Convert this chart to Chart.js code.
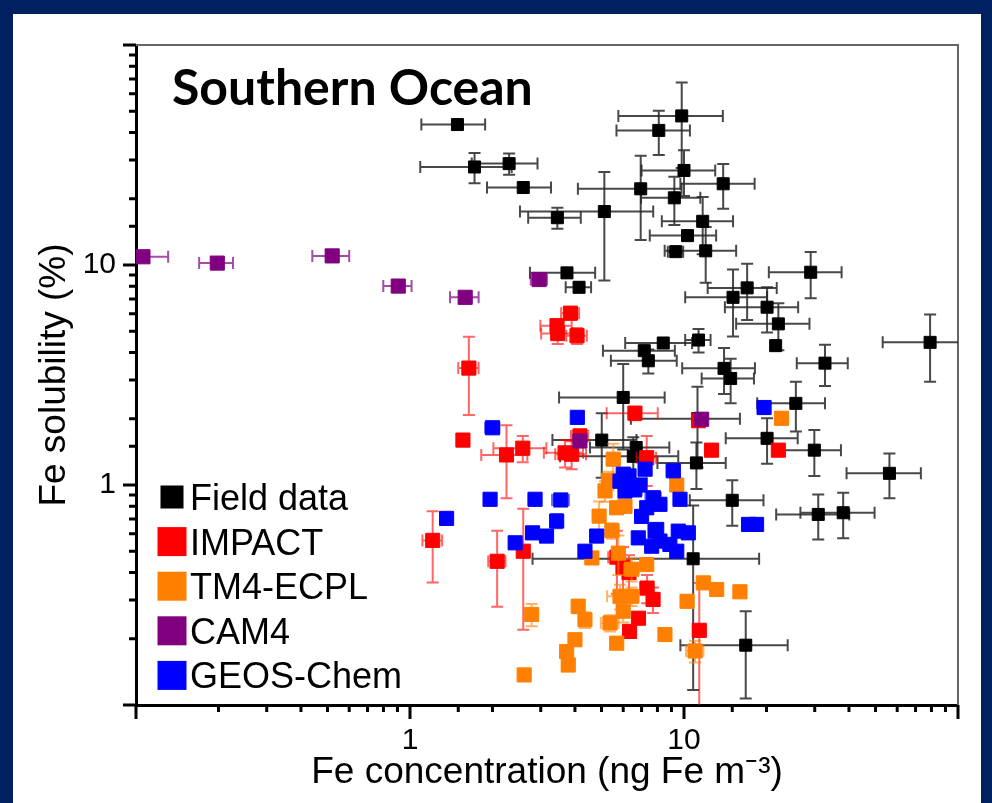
<!DOCTYPE html>
<html>
<head>
<meta charset="utf-8">
<script src="https://cdn.jsdelivr.net/npm/chart.js@4.4.1/dist/chart.umd.min.js"></script>
<style>
  body { margin: 0; background: #002060; width: 992px; height: 803px; overflow: hidden; }
  #wrap { position: absolute; left: 13px; top: 14px; width: 968px; height: 789px; background: #fff; }
  canvas { display: block; }
</style>
</head>
<body>
<div id="wrap"><canvas id="myChart" width="968" height="789"></canvas></div>
<script>
// データ
const seriesNames = ["Field data", "IMPACT", "TM4-ECPL", "CAM4", "GEOS-Chem"];
const seriesColors = ["#000000", "#ff0000", "#ff8000", "#800080", "#0000ff"];
const xTickLabels = [1, 10];
const yTickLabels = [1, 10];

const fieldX = [1.49, 1.72, 2.30, 2.59, 3.45, 5.12, 6.95, 9.81, 8.09, 10.0, 13.9, 9.22, 11.7, 10.3, 12.0, 9.33, 29.0, 17.0, 15.1, 20.1, 22.1, 21.6, 32.7, 79.1, 8.4, 11.3, 7.16, 7.41, 6.0, 5.01, 6.69, 6.53, 11.1, 15.0, 10.8, 16.8, 30.9, 38.1, 56.2, 29.9, 20.1, 25.6, 14.0, 14.8, 3.74, 4.14, 11.2];
const fieldY = [43.5, 27.9, 28.9, 22.5, 16.4, 17.5, 22.2, 47.6, 40.9, 26.9, 23.4, 20.2, 15.8, 13.6, 11.6, 11.5, 9.27, 7.87, 7.13, 6.43, 5.40, 4.30, 3.58, 4.45, 4.42, 4.56, 4.08, 3.67, 2.50, 1.60, 1.48, 1.35, 1.26, 0.852, 0.462, 0.187, 0.735, 0.748, 1.13, 1.44, 1.63, 2.35, 3.39, 3.05, 9.21, 7.92, 2.0];
const fieldXErr = [0.39, 0.63, 0.62, 0.68, 0.75, 2.6, 2.85, 4.05, 2.42, 3.0, 4.2, 2.25, 3.4, 2.8, 3.5, 0.6, 8.6, 4.8, 5.0, 6.0, 6.6, 0.5, 6.9, 26, 2.3, 1.2, 2.1, 2.0, 2.5, 1.7, 2.15, 3.0, 3.1, 4.5, 8.0, 7.1, 9.2, 11.5, 17, 7.5, 5.9, 7.1, 4.15, 3.2, 1.0, 0.44, 4.8];
const fieldYErr = [0, 4.4, 3.2, 0, 1.8, 9.0, 9.2, 20, 9.3, 6.3, 5.4, 5.0, 4.6, 0, 3.3, 0, 2.2, 2.25, 2.4, 1.5, 1.3, 0, 0.76, 1.5, 0, 0.56, 0, 0.46, 1.05, 0.52, 0, 0.3, 0.3, 0.2, 0.345, 0.08, 0.17, 0.175, 0.26, 0.34, 0.38, 0.6, 0.8, 0.7, 0.4, 0.4, 0.8];

const impactX = [3.85, 3.44, 3.46, 4.07, 1.64, 1.56, 2.25, 2.58, 3.68, 3.89, 4.17, 6.62, 7.31, 12.6, 22.1, 11.3, 1.21, 2.08, 2.59, 5.69, 5.99, 6.30, 7.33, 7.71, 6.82, 6.33, 11.37];
const impactY = [6.04, 5.30, 4.88, 4.77, 3.40, 1.60, 1.37, 1.47, 1.40, 1.38, 1.67, 2.12, 1.33, 1.44, 1.44, 1.96, 0.56, 0.45, 0.50, 0.47, 0.423, 0.40, 0.34, 0.302, 0.248, 0.216, 0.2185];
const impactXErr = [0.29, 0.45, 0.45, 0.35, 0.14, 0, 0.43, 0.565, 0.6, 0.5, 0.3, 1.4, 0.6, 0, 0, 0, 0.1, 0.15, 0.1, 0.4, 0.3, 0.3, 0.4, 0.3, 0, 0, 0];
const impactYErr = [0.4, 0.3, 0.5, 0.4, 1.32, 0, 0.5, 0.2, 0.2, 0.2, 0.12, 0.15, 0.34, 0, 0, 0, 0.2, 0.17, 0.28, 0.15, 0.1, 0.08, 0.05, 0.04, 0, 0, 0.14];

const tm4X = [5.52, 22.7, 9.41, 5.68, 4.90, 6.09, 4.61, 5.76, 7.31, 6.44, 5.84, 6.44, 5.37, 6.0, 5.68, 4.11, 4.35, 4.0, 3.73, 3.78, 2.78, 2.61, 8.52, 11.76, 13.16, 16.0, 10.26, 10.97, 5.15, 5.46, 5.30];
const tm4Y = [1.31, 2.01, 1.0, 0.788, 0.722, 0.80, 0.466, 0.49, 0.435, 0.414, 0.312, 0.312, 0.236, 0.267, 0.191, 0.281, 0.244, 0.198, 0.175, 0.152, 0.258, 0.137, 0.209, 0.359, 0.335, 0.327, 0.296, 0.176, 0.94, 0.62, 1.05];
const tm4XErr = [0.3, 0, 0, 0.3, 0, 0.3, 0, 0.3, 0, 0.4, 0.6, 0.4, 0.4, 0.3, 0, 0.2, 0.2, 0, 0, 0, 0.1, 0, 0, 0, 0, 0, 0, 0.8, 0.2, 0.3, 0.2];
const tm4YErr = [0.23, 0, 0, 0.05, 0.12, 0.05, 0, 0.1, 0, 0.05, 0.04, 0.03, 0.02, 0.03, 0, 0.02, 0.02, 0, 0, 0, 0.03, 0, 0, 0, 0, 0, 0, 0.02, 0.1, 0.05, 0.1];

const cam4X = [0.106, 0.198, 0.52, 0.906, 1.59, 2.96, 4.17, 11.6];
const cam4Y = [10.9, 10.2, 11.0, 8.02, 7.13, 8.59, 1.586, 1.99];
const cam4XErr = [0.025, 0.028, 0.08, 0.107, 0.19, 0.2, 0.2, 0];
const cam4YErr = [0, 0, 0, 0, 0, 0.3, 0.1, 0];

const geosX = [4.08, 2.00, 1.96, 2.86, 3.55, 1.36, 3.43, 2.80, 3.15, 2.42, 4.80, 4.35, 6.81, 6.0, 7.21, 9.14, 9.67, 6.91, 7.73, 7.31, 8.17, 5.84, 6.09, 7.95, 9.53, 10.37, 8.17, 8.88, 7.62, 19.6, 17.2, 18.4, 7.84, 9.41, 6.6, 7.0, 6.3];
const geosY = [2.03, 1.82, 0.861, 0.861, 0.855, 0.705, 0.686, 0.606, 0.586, 0.546, 0.586, 0.50, 0.575, 1.12, 1.18, 1.16, 0.861, 1.0, 0.875, 0.788, 0.817, 1.04, 0.939, 0.628, 0.617, 0.606, 0.556, 0.537, 0.527, 2.25, 0.662, 0.662, 0.617, 0.50, 0.95, 0.72, 1.1];
const geosXErr = [0, 0.12, 0.08, 0.15, 0.25, 0, 0.15, 0, 0.1, 0, 0.15, 0, 0, 0, 0, 0.5, 0.4, 0, 0.5, 0, 0.4, 0, 0, 0, 0, 0, 0, 0, 0, 0, 0, 0, 0, 0, 0.4, 0, 0.3];
const geosYErr = [0, 0.05, 0.04, 0, 0, 0, 0.05, 0, 0, 0, 0.03, 0, 0, 0, 0, 0, 0, 0, 0, 0, 0, 0, 0, 0, 0, 0.03, 0, 0, 0, 0, 0.03, 0, 0, 0, 0.05, 0, 0.05];

const FONT = "'Liberation Sans', Arial, sans-serif";

// 点データに変換
function toPoints(xs, ys) {
  return xs.map((x, i) => ({ x: x, y: ys[i] }));
}

function isPow10(v) {
  const l = Math.log10(v);
  return Math.abs(l - Math.round(l)) < 1e-6;
}

function hasLabel(list, v) {
  return list.some((t) => Math.abs(t - v) < 1e-9);
}

// データセットの作成
function makeDataset(idx, xs, ys, ex, ey, barColor, radius, order) {
  return {
    label: seriesNames[idx],
    data: toPoints(xs, ys),
    errX: ex,
    errY: ey,
    barColor: barColor,
    barWidth: 2,
    backgroundColor: seriesColors[idx],
    borderColor: seriesColors[idx],
    borderWidth: 1,
    pointStyle: "rect",
    pointRadius: radius,
    pointHoverRadius: radius,
    order: order,
  };
}

// エラーバー
const errorBars = {
  id: "errorBars",
  beforeDatasetDraw(chart, args) {
    const ds = chart.data.datasets[args.index];
    if (!ds.errX) return;
    const xs = chart.scales.x;
    const ys = chart.scales.y;
    const area = chart.chartArea;
    const c = chart.ctx;
    const cap = 6;
    c.save();
    c.beginPath();
    c.rect(area.left, area.top, area.right - area.left, area.bottom - area.top);
    c.clip();
    c.strokeStyle = ds.barColor;
    c.lineWidth = ds.barWidth;
    ds.data.forEach((p, i) => {
      const px = xs.getPixelForValue(p.x);
      const py = ys.getPixelForValue(p.y);
      const ex = ds.errX[i];
      const ey = ds.errY[i];
      c.beginPath();
      if (ex > 0) {
        const x1 = p.x - ex > 0 ? xs.getPixelForValue(p.x - ex) : area.left - 20;
        const x2 = xs.getPixelForValue(p.x + ex);
        c.moveTo(x1, py); c.lineTo(x2, py);
        c.moveTo(x1, py - cap); c.lineTo(x1, py + cap);
        c.moveTo(x2, py - cap); c.lineTo(x2, py + cap);
      }
      if (ey > 0) {
        const y1 = p.y - ey > 0 ? ys.getPixelForValue(p.y - ey) : area.bottom + 20;
        const y2 = ys.getPixelForValue(p.y + ey);
        c.moveTo(px, y1); c.lineTo(px, y2);
        c.moveTo(px - cap, y1); c.lineTo(px + cap, y1);
        c.moveTo(px - cap, y2); c.lineTo(px + cap, y2);
      }
      c.stroke();
    });
    c.restore();
  },
};

// 枠線と目盛り
const axisDecor = {
  id: "axisDecor",
  beforeDatasetsDraw(chart) {
    const c = chart.ctx;
    const a = chart.chartArea;
    c.save();
    c.strokeStyle = "#666";
    c.lineWidth = 2;
    c.beginPath();
    c.moveTo(a.left, a.top);
    c.lineTo(a.right, a.top);
    c.lineTo(a.right, a.bottom);
    c.stroke();
    c.restore();
  },
  afterDraw(chart) {
    const c = chart.ctx;
    const a = chart.chartArea;
    const xs = chart.scales.x;
    const ys = chart.scales.y;
    c.save();
    c.strokeStyle = "#000";
    c.lineWidth = 3;
    c.beginPath();
    xs.ticks.forEach((t) => {
      const px = xs.getPixelForValue(t.value);
      c.moveTo(px, a.bottom);
      c.lineTo(px, a.bottom + (isPow10(t.value) ? 14 : 7));
    });
    ys.ticks.forEach((t) => {
      const py = ys.getPixelForValue(t.value);
      c.moveTo(a.left, py);
      c.lineTo(a.left - (isPow10(t.value) ? 13 : 7), py);
    });
    c.stroke();
    c.restore();
  },
};

// タイトルと凡例（プロット内）
const insideText = {
  id: "insideText",
  afterDraw(chart) {
    const c = chart.ctx;
    const a = chart.chartArea;
    c.save();
    c.fillStyle = "#000";
    c.font = "bold 50px Lato, 'Open Sans', sans-serif";
    c.textBaseline = "alphabetic";
    c.fillText("Southern Ocean", a.left + 36, a.top + 60);

    c.font = "36px " + FONT;
    seriesNames.forEach((name, i) => {
      const cy = a.top + 452 + i * 44.6;
      const s = i === 0 ? 23 : 29;
      c.fillStyle = seriesColors[i];
      c.fillRect(a.left + 36 - s / 2, cy - s / 2, s, s);
      c.fillStyle = "#000";
      c.fillText(name, a.left + 54, cy + 13);
    });
    c.restore();
  },
};

function initializeChart() {
  const ctx = document.getElementById("myChart").getContext("2d");
  new Chart(ctx, {
    type: "scatter",
    data: {
      datasets: [
        makeDataset(0, fieldX, fieldY, fieldXErr, fieldYErr, "rgba(40,40,40,0.85)", 8.5, 5),
        makeDataset(1, impactX, impactY, impactXErr, impactYErr, "rgba(255,0,0,0.6)", 10, 4),
        makeDataset(2, tm4X, tm4Y, tm4XErr, tm4YErr, "rgba(255,128,0,0.6)", 10, 3),
        makeDataset(4, geosX, geosY, geosXErr, geosYErr, "rgba(0,0,255,0.6)", 10, 2),
        makeDataset(3, cam4X, cam4Y, cam4XErr, cam4YErr, "rgba(128,0,128,0.7)", 10, 1),
      ],
    },
    options: {
      responsive: false,
      animation: false,
      layout: { padding: { left: 0, top: 31, right: 23, bottom: 0 } },
      plugins: {
        legend: { display: false },
        tooltip: { enabled: false },
      },
      scales: {
        x: {
          type: "logarithmic",
          position: "bottom",
          min: 0.1,
          max: 100,
          grid: { display: false, drawTicks: true, tickLength: 14 },
          border: { display: true, color: "#000", width: 3 },
          ticks: {
            autoSkip: false,
            maxRotation: 0,
            padding: 4,
            color: "#000",
            font: { family: FONT, size: 30 },
            callback: (v) => (hasLabel(xTickLabels, v) ? String(Math.round(v)) : ""),
          },
          title: {
            display: true,
            text: "Fe concentration (ng Fe m\u207B\u00B3)",
            color: "#000",
            font: { family: FONT, size: 37 },
            padding: { top: 0, bottom: 8 },
          },
          afterFit: (s) => { s.height = 98; },
        },
        y: {
          type: "logarithmic",
          position: "left",
          min: 0.1,
          max: 100,
          grid: { display: false, drawTicks: true, tickLength: 13 },
          border: { display: true, color: "#000", width: 3 },
          ticks: {
            autoSkip: false,
            padding: 7,
            color: "#000",
            font: { family: FONT, size: 30 },
            callback: (v) => (hasLabel(yTickLabels, v) ? String(Math.round(v)) : ""),
          },
          title: {
            display: true,
            text: "Fe solubility (%)",
            color: "#000",
            font: { family: FONT, size: 37 },
            padding: { top: 20, bottom: 0 },
          },
          afterFit: (s) => { s.width = 123; },
        },
      },
    },
    plugins: [errorBars, axisDecor, insideText],
  });
}

document.addEventListener("DOMContentLoaded", initializeChart);
</script>
</body>
</html>
